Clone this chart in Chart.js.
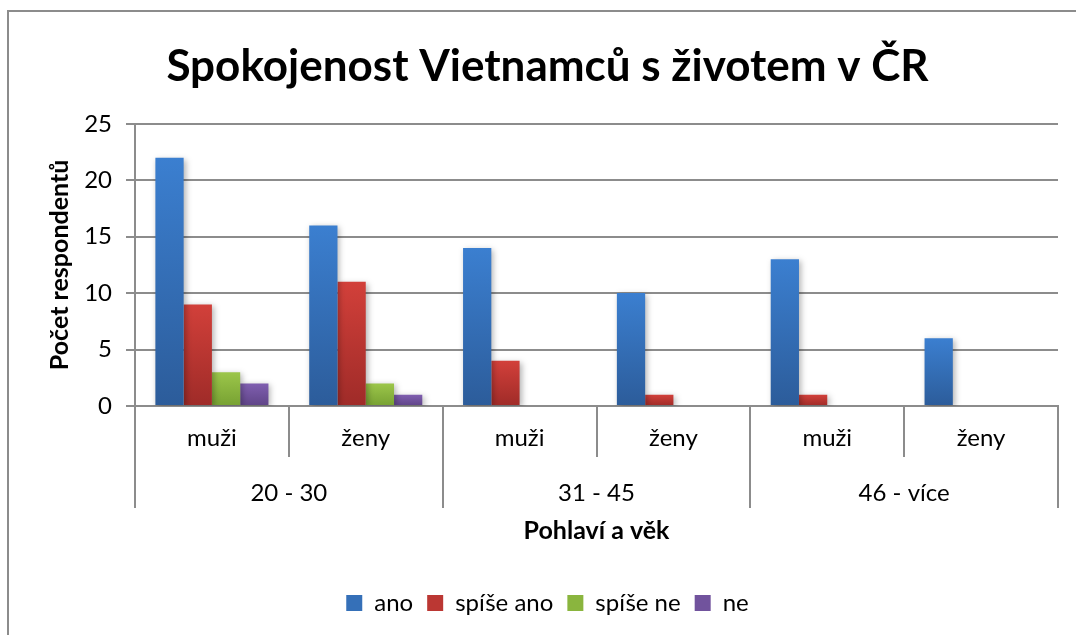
<!DOCTYPE html>
<html>
<head>
<meta charset="utf-8">
<script src="https://cdn.jsdelivr.net/npm/chart.js@4"></script>
<style>
  html, body { margin: 0; padding: 0; background: #ffffff; }
  #frame { position: absolute; left: 7px; top: 10px; width: 1200px; height: 800px;
           border-left: 2px solid #8c8c8c; border-top: 2px solid #8c8c8c; }
  #wrap { position: absolute; left: 0; top: 0; width: 1076px; height: 635px; }
</style>
</head>
<body>
<div id="frame"></div>
<div id="wrap"><canvas id="c" width="1076" height="635"></canvas></div>
<script>
// ---- data ----
const chartTitle = 'Spokojenost Vietnamců s životem v ČR';
const yTitle = 'Počet respondentů';
const xTitle = 'Pohlaví a věk';
const ageGroups = ['20 - 30', '31 - 45', '46 - více'];
const genders = ['muži', 'ženy'];
const seriesNames = ['ano', 'spíše ano', 'spíše ne', 'ne'];
const ano      = [22, 16, 14, 10, 13, 6];
const spiseAno = [9, 11, 4, 1, 1, 0];
const spiseNe  = [3, 2, 0, 0, 0, 0];
const ne       = [2, 1, 0, 0, 0, 0];
const yMin = 0, yMax = 25, yStep = 5;

// ---- styles ----
const topColors = ['#3b7fd0', '#d2403a', '#9cc64a', '#805fb0'];
const botColors = ['#2c5c9a', '#9f2b28', '#77a132', '#5f4487'];
const midColors = ['#3570b8', '#bb3733', '#8ab53e', '#71539d'];
const gridColor = '#8c8c8c';
const fontFamily = 'Lato, "Open Sans", sans-serif';

const categories = [];
ageGroups.forEach(() => genders.forEach(g => categories.push(g)));
const seriesValues = [ano, spiseAno, spiseNe, ne];

function barFill(ctx, i) {
  const chart = ctx.chart;
  if (!chart.chartArea || ctx.type !== 'data' || !chart.scales.y) return midColors[i];
  const ys = chart.scales.y;
  const top = ys.getPixelForValue(ctx.raw);
  const bottom = ys.getPixelForValue(0);
  if (!(bottom - top > 1)) return midColors[i];
  const g = chart.ctx.createLinearGradient(0, top, 0, bottom);
  g.addColorStop(0, topColors[i]);
  g.addColorStop(1, botColors[i]);
  return g;
}

const shadowPlugin = {
  id: 'barShadow',
  beforeDatasetsDraw(chart) {
    const c = chart.ctx;
    c.save();
    c.shadowColor = 'rgba(0,0,0,0.30)';
    c.shadowBlur = 6;
    c.shadowOffsetX = 2;
    c.shadowOffsetY = 2;
  },
  afterDatasetsDraw(chart) { chart.ctx.restore(); }
};

new Chart(document.getElementById('c'), {
  type: 'bar',
  data: {
    labels: categories,
    datasets: seriesNames.map((name, i) => ({
      label: name,
      data: seriesValues[i],
      backgroundColor: (ctx) => barFill(ctx, i),
      borderWidth: 0,
      xAxisID: 'x',
      yAxisID: 'y',
      categoryPercentage: 0.735,
      barPercentage: 1.0
    }))
  },
  plugins: [shadowPlugin],
  options: {
    responsive: false,
    animation: false,
    events: [],
    layout: { padding: { left: 37, right: 18, top: 0, bottom: 10 } },
    plugins: {
      tooltip: { enabled: false },
      title: {
        display: true,
        text: chartTitle,
        color: '#000',
        font: { family: fontFamily, size: 44, weight: 'bold' },
        padding: { top: 40, bottom: 31 }
      },
      legend: {
        display: true,
        position: 'bottom',
        labels: {
          color: '#000',
          font: { family: fontFamily, size: 24 },
          boxWidth: 16,
          boxHeight: 16,
          padding: 14,
          generateLabels(chart) {
            return seriesNames.map((name, i) => ({
              text: name,
              fillStyle: midColors[i],
              strokeStyle: midColors[i],
              lineWidth: 0,
              hidden: false,
              datasetIndex: i
            }));
          }
        }
      }
    },
    scales: {
      y: {
        min: yMin, max: yMax,
        ticks: { stepSize: yStep, color: '#000', font: { family: fontFamily, size: 24 }, padding: 14 },
        grid: { color: gridColor, lineWidth: 2, tickLength: 9 },
        border: { color: gridColor, width: 2 },
        title: {
          display: true, text: yTitle, color: '#000',
          font: { family: fontFamily, size: 25, weight: 'bold' },
          padding: { top: 8, bottom: 0 }
        },
        afterFit(scale) { scale.width = 98; }
      },
      x: {
        type: 'category',
        position: 'bottom',
        weight: 0,
        offset: true,
        ticks: { color: '#000', font: { family: fontFamily, size: 24 }, padding: -33, autoSkip: false, maxRotation: 0 },
        grid: { offset: true, drawOnChartArea: false, color: gridColor, lineWidth: 2, tickLength: 51 },
        border: { color: gridColor, width: 2 },
        afterFit(scale) { scale.height = 51; }
      },
      x2: {
        type: 'category',
        labels: ageGroups,
        position: 'bottom',
        weight: 1,
        offset: true,
        ticks: { color: '#000', font: { family: fontFamily, size: 24 }, padding: -29, autoSkip: false, maxRotation: 0 },
        grid: { offset: true, drawOnChartArea: false, color: gridColor, lineWidth: 2, tickLength: 51 },
        border: { display: false },
        title: {
          display: true, text: xTitle, color: '#000',
          font: { family: fontFamily, size: 25, weight: 'bold' },
          padding: { top: 0, bottom: 31 }
        },
        afterFit(scale) { scale.height = 120; }
      }
    }
  }
});
</script>
</body>
</html>
